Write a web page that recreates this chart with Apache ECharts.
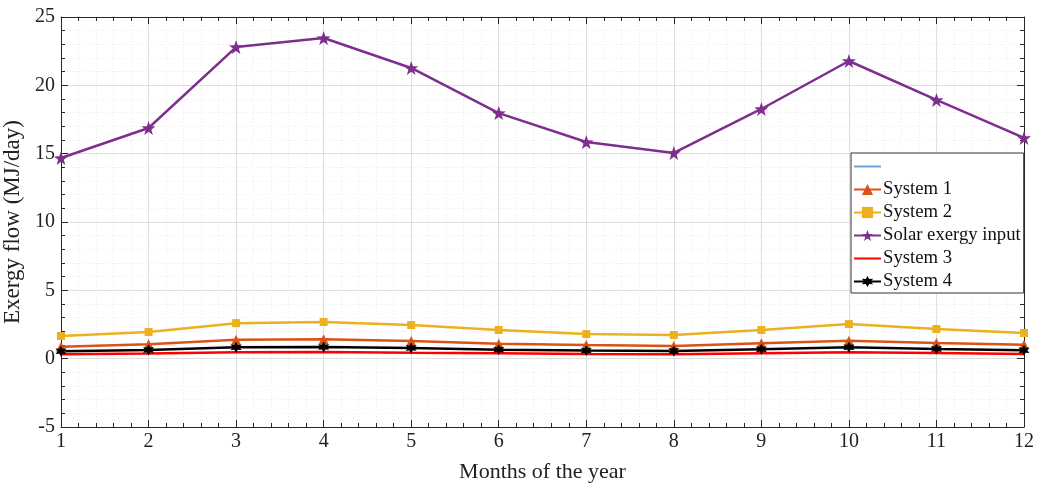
<!DOCTYPE html>
<html><head><meta charset="utf-8">
<script src="https://cdn.jsdelivr.net/npm/echarts@6/dist/echarts.min.js"></script>
<style>html,body{margin:0;padding:0;background:#fff}#c{width:1040px;height:484px}</style>
</head><body><div id="c"></div>
<script>
const months = [1,2,3,4,5,6,7,8,9,10,11,12];
const system1 = [0.88,1.05,1.39,1.42,1.29,1.10,1.00,0.93,1.12,1.32,1.15,1.02];
const system2 = [1.66,1.95,2.60,2.68,2.46,2.10,1.80,1.73,2.10,2.53,2.17,1.88];
const solar = [14.68,16.88,22.80,23.46,21.27,17.97,15.85,15.05,18.27,21.78,18.93,16.15];
const system3 = [0.32,0.37,0.47,0.49,0.44,0.40,0.34,0.32,0.40,0.47,0.42,0.34];
const system4 = [0.54,0.64,0.83,0.86,0.78,0.66,0.59,0.56,0.69,0.83,0.71,0.61];
const seriesNames = [' ', 'System 1', 'System 2', 'Solar exergy input', 'System 3', 'System 4'];

const pair = arr => months.map((m,i)=>[m, arr[i]]);
const font = '"Liberation Serif", "Times New Roman", serif';
const axisCol = '#262626';
const hexagram = 'path://M0,-10 L2.6,-4.5 L8.7,-5 L5.2,0 L8.7,5 L2.6,4.5 L0,10 L-2.6,4.5 L-8.7,5 L-5.2,0 L-8.7,-5 L-2.6,-4.5 Z';
const star5 = 'path://M0,-10 L2.35,-3.24 L9.51,-3.09 L3.8,1.24 L5.88,8.09 L0,4 L-5.88,8.09 L-3.8,1.24 L-9.51,-3.09 L-2.35,-3.24 Z';

function axisCommon(show){
  return {
    axisLine:{show:true,onZero:false,lineStyle:{color:axisCol,width:1}},
    axisTick:{show:true,inside:true,length:7,lineStyle:{color:axisCol}},
    minorTick:{show:true,splitNumber:5,length:4,lineStyle:{color:axisCol}},
    axisLabel:{show:show,color:'#222',fontFamily:font,fontSize:20},
  };
}
const chart = echarts.init(document.getElementById('c'));
chart.setOption({
  animation:false,
  backgroundColor:'#fff',
  grid:{left:61,right:16,top:17,bottom:57,containLabel:false,outerBoundsMode:'none'},
  xAxis:[
    Object.assign({type:'value',min:1,max:12,interval:1,position:'bottom',
      name:'Months of the year',nameLocation:'middle',nameGap:34,
      nameTextStyle:{fontFamily:font,fontSize:22,color:'#222'},
      splitLine:{show:true,lineStyle:{color:'#dedede',width:1}},
      minorSplitLine:{show:true,lineStyle:{color:'#ececec',type:[1,2],width:1}}
    }, axisCommon(true), {axisLabel:{color:'#222',fontFamily:font,fontSize:20,margin:5}}),
    Object.assign({type:'value',min:1,max:12,interval:1,position:'top',splitLine:{show:false}}, axisCommon(false))
  ],
  yAxis:[
    Object.assign({type:'value',min:-5,max:25,interval:5,position:'left',
      name:'Exergy flow (MJ/day)',nameLocation:'middle',nameGap:20,
      nameTextStyle:{fontFamily:font,fontSize:23,color:'#222'},
      splitLine:{show:true,lineStyle:{color:'#dedede',width:1}},
      minorSplitLine:{show:true,lineStyle:{color:'#ececec',type:[1,2],width:1}}
    }, axisCommon(true), {axisLabel:{color:'#222',fontFamily:font,fontSize:20,margin:6}}),
    Object.assign({type:'value',min:-5,max:25,interval:5,position:'right',splitLine:{show:false}}, axisCommon(false))
  ],
  legend:{
    orient:'vertical',left:851,top:153,
    data:[
      {name:seriesNames[0],itemStyle:{opacity:0}},
      seriesNames[1],seriesNames[2],seriesNames[3],
      {name:seriesNames[4],itemStyle:{opacity:0}},
      seriesNames[5]
    ],
    backgroundColor:'#fff',borderColor:'#333',borderWidth:1,
    padding:[4,3,2,2],itemGap:4,itemWidth:27,itemHeight:14,
    textStyle:{fontFamily:font,fontSize:18.7,lineHeight:18,color:'#111',padding:[0,0,0,-3]}
  },
  series:[
    {name:seriesNames[0],type:'line',data:[],symbol:'none',color:'#6aa6dc',lineStyle:{width:1.3}},
    {name:seriesNames[1],type:'line',data:pair(system1),symbol:'triangle',symbolSize:10,color:'#D95319',lineStyle:{width:2.5}},
    {name:seriesNames[2],type:'line',data:pair(system2),symbol:'rect',symbolSize:8,color:'#EDB120',lineStyle:{width:2.5}},
    {name:seriesNames[3],type:'line',data:pair(solar),symbol:star5,symbolSize:14,color:'#7E2F8E',lineStyle:{width:2.5}},
    {name:seriesNames[4],type:'line',data:pair(system3),symbol:'none',color:'#FF0000',lineStyle:{width:2.5}},
    {name:seriesNames[5],type:'line',data:pair(system4),symbol:hexagram,symbolSize:11,color:'#000000',lineStyle:{width:2.5}}
  ]
});
</script></body></html>
